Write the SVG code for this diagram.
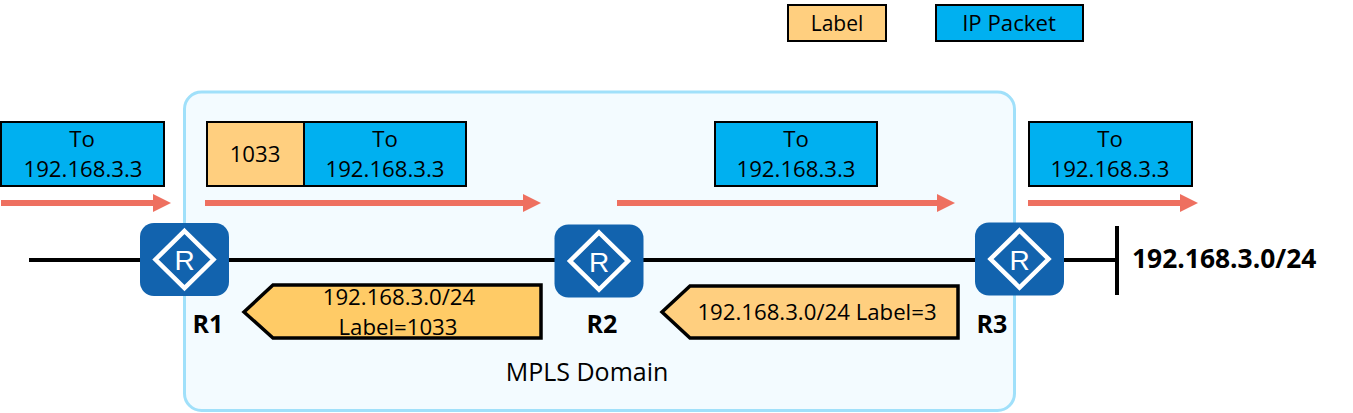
<svg xmlns="http://www.w3.org/2000/svg" width="1353" height="413" viewBox="0 0 1353 413">
<style>
text{font-family:"Open Sans","Noto Sans","DejaVu Sans",sans-serif;font-size:22.2px;fill:#000;text-anchor:middle}
.b{font-weight:700;font-size:25px}
.net{font-weight:700;font-size:26.4px;text-anchor:start}
.dom{font-size:25px}
.sm{font-size:21px}
.lbl{fill:#FFCF7F;stroke:#000;stroke-width:2}
.pkt{fill:#00B0F0;stroke:#000;stroke-width:2}
.flow{stroke:#EE7060;stroke-width:6;fill:none;marker-end:url(#ah)}
.wire{stroke:#000;stroke-width:4;fill:none}
.adv{fill:#FFCB66;stroke:#000;stroke-width:3.5}
.adv2{fill:#FFCF7F;stroke:#000;stroke-width:3.5}
.rb{fill:#1263AE}
.rd{fill:none;stroke:#fff;stroke-width:4.5}
.rt{font-family:"Liberation Sans",Arial,sans-serif;font-size:28px;fill:#fff}
</style>
<defs>
<marker id="ah" markerUnits="userSpaceOnUse" markerWidth="19" markerHeight="18" refX="1" refY="9" orient="auto"><path d="M0,0 L18,9 L0,18 Z" fill="#EE7060"/></marker>
<g id="router"><rect class="rb" x="-44.5" y="-36.5" width="89" height="73" rx="14"/><path class="rd" d="M0,-28.5 L29,0 L0,28.5 L-29,0 Z"/></g>
</defs>
<g id="domain"><rect x="184.5" y="92" width="830" height="318.5" rx="17" fill="#F3FBFF" stroke="#A0E0FA" stroke-width="3"/><text class="dom" x="587" y="381">MPLS Domain</text></g>
<g id="legend-label"><rect class="lbl" x="788" y="5" width="98" height="36"/><text class="sm" x="837" y="31">Label</text></g>
<g id="legend-packet"><rect class="pkt" x="936" y="5" width="147" height="36"/><text x="1009" y="31">IP Packet</text></g>
<g id="connectors">
<path class="wire" d="M29,260H1117"/>
<path class="wire" d="M1117,226V295"/>
<path class="flow" d="M1,203H154"/>
<path class="flow" d="M205,203H524"/>
<path class="flow" d="M617,203H938"/>
<path class="flow" d="M1028,203H1181"/>
</g>
<g id="pkt1"><rect class="pkt" x="1" y="122" width="163" height="64"/><text x="82" y="147">To</text><text x="83" y="177">192.168.3.3</text></g>
<g id="pkt2"><rect class="lbl" x="207" y="122" width="97" height="64"/><text x="255" y="162">1033</text><rect class="pkt" x="304" y="122" width="162" height="64"/><text x="385" y="147">To</text><text x="385" y="177">192.168.3.3</text></g>
<g id="pkt3"><rect class="pkt" x="715" y="122" width="162" height="64"/><text x="796" y="147">To</text><text x="796" y="177">192.168.3.3</text></g>
<g id="pkt4"><rect class="pkt" x="1029" y="122" width="163" height="64"/><text x="1110" y="147">To</text><text x="1110" y="177">192.168.3.3</text></g>
<g id="R1"><use href="#router" x="184.5" y="259.5"/><text class="rt" x="184.5" y="270">R</text><text class="b" x="208" y="333">R1</text></g>
<g id="R2"><use href="#router" x="599" y="261"/><text class="rt" x="599" y="271.5">R</text><text class="b" x="602" y="333">R2</text></g>
<g id="R3"><use href="#router" x="1019.5" y="259"/><text class="rt" x="1019.5" y="269.5">R</text><text class="b" x="992" y="333">R3</text></g>
<g id="net"><text class="net" x="1132" y="268">192.168.3.0/24</text></g>
<g id="adv1"><path class="adv" d="M244,312 L273,285 H541 V338 H273 Z"/><text x="399" y="305">192.168.3.0/24</text><text x="398" y="335">Label=1033</text></g>
<g id="adv2"><path class="adv2" d="M662,312 L690,286 H958 V338 H690 Z"/><text x="817" y="320">192.168.3.0/24 Label=3</text></g>
</svg>
